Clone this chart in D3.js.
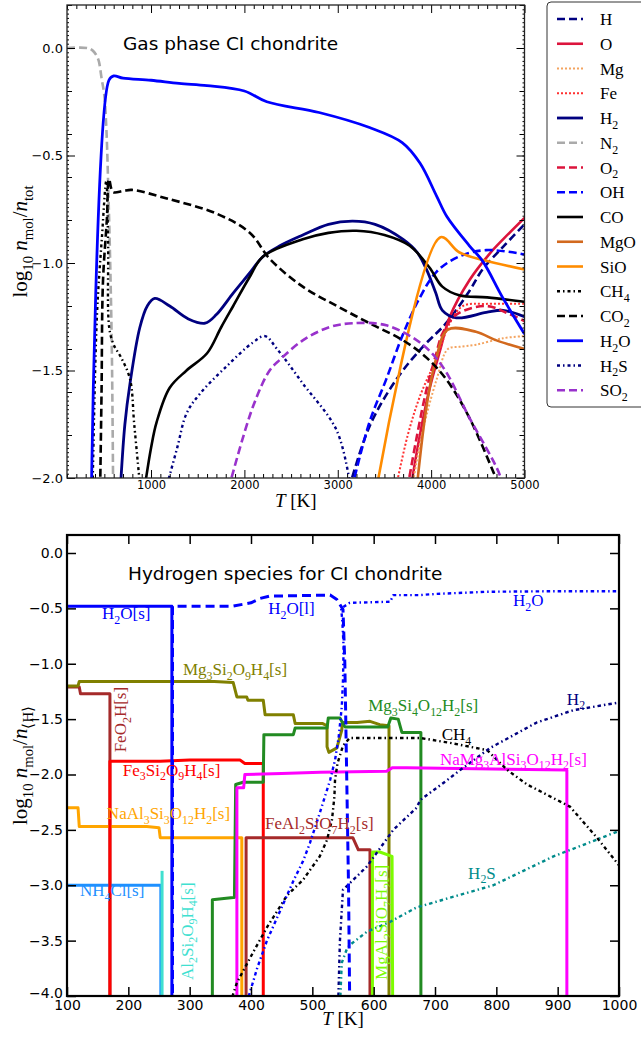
<!DOCTYPE html>
<html>
<head>
<meta charset="utf-8">
<script src="https://cdn.jsdelivr.net/npm/d3@7"></script>
<style>
  body { margin: 0; background: #fff; }
  svg { display: block; }
</style>
</head>
<body>
<svg id="fig" width="641" height="1039"></svg>
<script>
// ---------- Gas phase CI chondrite: [T (K), log10 n_mol/n_tot] ----------
const gasH   = [[3120,-2.05],[3340,-1.76],[3630,-1.54],[3910,-1.39],[4160,-1.28],[4410,-1.13],[4550,-1.03],[4770,-0.925],[5000,-0.82]];
const gasO   = [[3780,-2.05],[3880,-1.8],[3980,-1.59],[4100,-1.4],[4200,-1.25],[4410,-1.08],[4630,-0.955],[4770,-0.89],[5000,-0.79]];
const gasMg  = [[3795,-2.05],[3900,-1.8],[4060,-1.54],[4180,-1.40],[4300,-1.39],[4480,-1.38],[4770,-1.35],[5000,-1.34]];
const gasFe  = [[3620,-2.05],[3750,-1.8],[3880,-1.62],[4060,-1.44],[4200,-1.28],[4340,-1.2],[4600,-1.19],[5000,-1.19]];
const gasH2  = [[672,-2.05],[720,-1.75],[775,-1.56],[880,-1.3],[960,-1.2],[1040,-1.165],[1200,-1.2],[1400,-1.26],[1580,-1.28],[1700,-1.24],[1880,-1.14],[2050,-1.05],[2200,-0.97],[2380,-0.92],[2625,-0.87],[2900,-0.82],[3160,-0.805],[3400,-0.82],[3700,-0.89],[3850,-0.95],[3950,-1.03],[4050,-1.14],[4120,-1.22],[4270,-1.255],[4590,-1.23],[4770,-1.22],[5000,-1.25]];
const gasN2  = [[100,0],[320,0],[370,-0.01],[410,-0.03],[440,-0.06],[470,-0.14],[500,-0.22],[520,-0.36],[530,-0.47],[540,-0.62],[560,-0.95],[580,-1.4],[594,-2.05]];
const gasO2  = [[3745,-2.05],[3850,-1.8],[3950,-1.59],[4050,-1.43],[4120,-1.33],[4270,-1.24],[4590,-1.2],[4800,-1.23],[5000,-1.27]];
const gasOH  = [[3150,-2.05],[3340,-1.74],[3520,-1.54],[3700,-1.33],[3880,-1.16],[4060,-1.04],[4300,-0.97],[4590,-0.94],[5000,-0.96]];
const gasCO  = [[930,-2.05],[1000,-1.86],[1060,-1.74],[1200,-1.58],[1380,-1.5],[1600,-1.42],[1750,-1.3],[1880,-1.2],[2050,-1.07],[2200,-0.97],[2625,-0.89],[2900,-0.86],[3200,-0.85],[3500,-0.87],[3770,-0.92],[3980,-1.02],[4120,-1.11],[4300,-1.15],[4600,-1.16],[5000,-1.18]];
const gasMgO = [[3845,-2.05],[3950,-1.67],[4050,-1.45],[4180,-1.31],[4480,-1.32],[4700,-1.36],[5000,-1.40]];
const gasSiO = [[3415,-2.05],[4100,-0.88],[4300,-0.95],[4590,-0.99],[5000,-1.03]];
const gasCH4 = [[374,-2.05],[420,-1.25],[474,-0.88],[520,-0.62],[540,-0.9],[552,-1.3],[600,-1.38],[680,-1.44],[775,-1.54],[820,-1.75],[885,-2.05]];
const gasCO2 = [[455,-2.05],[470,-1.6],[485,-1.09],[528,-0.79],[550,-0.61],[593,-0.67],[700,-0.665],[795,-0.66],[1170,-0.7],[1700,-0.77],[2060,-0.86],[2270,-0.98],[2625,-1.11],[2990,-1.2],[3340,-1.28],[3700,-1.36],[3950,-1.44],[4160,-1.54],[4410,-1.72],[4740,-2.05]];
const gasH2O = [[362,-2.05],[549,-0.15],[600,-0.13],[700,-0.14],[1000,-0.15],[1300,-0.165],[1600,-0.175],[2000,-0.2],[2240,-0.25],[2800,-0.3],[3340,-0.37],[3690,-0.44],[3880,-0.535],[4060,-0.69],[4170,-0.785],[4410,-0.92],[4550,-0.99],[4765,-1.16],[5000,-1.33]];
const gasH2S = [[1160,-2.05],[1280,-1.86],[1380,-1.70],[1520,-1.61],[1810,-1.48],[2090,-1.37],[2220,-1.34],[2350,-1.40],[2625,-1.56],[2990,-1.78],[3140,-2.05]];
const gasSO2 = [[1830,-2.05],[2090,-1.67],[2270,-1.5],[2380,-1.45],[2625,-1.36],[2900,-1.3],[3160,-1.28],[3520,-1.29],[3880,-1.37],[4120,-1.48],[4410,-1.72],[4730,-1.98],[4770,-2.05]];

const gasXTicks = [1000, 2000, 3000, 4000, 5000];
const gasYTicks = [0, -0.5, -1, -1.5, -2];

// ---------- Hydrogen species for CI chondrite: [T (K), log10 n_mol/n_<H>] ----------
const h2oSolid   = [[100,-0.48],[271,-0.48],[271,-4.1]];
const h2oLiquid  = [[272,-4.1],[272,-0.48],[370,-0.48],[400,-0.45],[415,-0.41],[430,-0.39],[529,-0.38],[540,-0.42],[550,-0.51],[553,-1],[556,-2],[559,-3],[561,-4.1]];
const h2oGas     = [[391,-4.1],[410,-3.75],[426,-3.5],[450,-3.2],[470,-2.95],[485,-2.78],[496,-2.62],[512,-2.35],[529,-2.05],[537,-1.87],[543,-1.66],[548,-1.39],[550,-1.15],[551,-0.85],[549,-0.62],[547,-0.5],[561,-0.45],[627,-0.44],[632,-0.38],[676,-0.38],[700,-0.37],[785,-0.35],[900,-0.345],[1000,-0.345]];
const mg3si2o9h4 = [[100,-1.2],[118,-1.2],[120,-1.16],[340,-1.16],[371,-1.17],[377,-1.3],[393,-1.3],[395,-1.33],[420,-1.33],[423,-1.46],[469,-1.46],[472,-1.54],[517,-1.54],[524,-1.56],[524,-1.75],[527,-1.8],[540,-1.76],[548,-1.6],[549,-1.53],[573,-1.53],[594,-1.52],[610,-1.55],[625,-1.56],[625,-4.1]];
const feo2h      = [[100,-1.21],[120,-1.21],[122,-1.27],[170,-1.27],[170,-4.1]];
const fe3si2o9h4 = [[170,-4.1],[170,-1.88],[252,-1.88],[300,-1.87],[382,-1.87],[390,-1.9],[420,-1.9],[420,-4.1]];
const mg3si4o12h2= [[337,-4.1],[337,-3.13],[371,-3.11],[373,-3.11],[375,-2.09],[387,-2.07],[420,-2.07],[421,-1.64],[469,-1.64],[472,-1.58],[524,-1.58],[526,-1.49],[545,-1.49],[553,-1.57],[623,-1.57],[628,-1.49],[640,-1.5],[646,-1.62],[677,-1.62],[677,-4.1]];
const namg3alsi3 = [[377,-4.1],[377,-2.12],[388,-2.12],[390,-2.0],[450,-1.99],[513,-1.98],[621,-1.97],[630,-1.94],[654,-1.94],[915,-1.96],[915,-4.1]];
const naal3si3   = [[100,-2.3],[118,-2.3],[120,-2.47],[230,-2.47],[250,-2.48],[252,-2.57],[385,-2.57],[385,-4.1]];
const feal2sio7  = [[392,-4.1],[392,-2.57],[566,-2.57],[575,-2.68],[594,-2.68],[594,-4.1]];
const mgal2sio7  = [[598,-4.1],[598,-2.7],[610,-2.7],[630,-2.74],[631,-4.1]];
const nh4cl      = [[100,-3.0],[253,-3.0],[253,-4.1]];
const al2si2o9h4 = [[255,-4.1],[255,-2.87]];
const hydH2      = [[542,-4.1],[545,-3.5],[550,-3.04],[567,-2.95],[589,-2.83],[632,-2.5],[670,-2.3],[676,-2.23],[720,-2.05],[741,-1.96],[790,-1.76],[866,-1.53],[925,-1.42],[1000,-1.35]];
const hydCH4     = [[364,-4.1],[377,-3.88],[404,-3.6],[426,-3.38],[459,-3.09],[485,-2.95],[512,-2.74],[524,-2.59],[532,-2.41],[536,-2.2],[537,-2.05],[541,-1.9],[550,-1.74],[561,-1.67],[676,-1.67],[730,-1.72],[785,-1.78],[818,-1.96],[850,-2.09],[920,-2.29],[964,-2.57],[1000,-2.82]];
const hydH2S     = [[545,-4.1],[548,-3.7],[556,-3.58],[561,-3.54],[589,-3.42],[627,-3.33],[670,-3.2],[795,-3.0],[893,-2.74],[1000,-2.51]];

const hydXTicks = [100, 200, 300, 400, 500, 600, 700, 800, 900, 1000];
const hydYTicks = [0, -0.5, -1, -1.5, -2, -2.5, -3, -3.5, -4];

// ---------- styling of the series ----------
const gasSeries = [
  { label: "H",     data: gasH,   color: "#000080", dash: "8,4",          w: 2.6 },
  { label: "O",     data: gasO,   color: "#dc143c", dash: null,           w: 2.6 },
  { label: "Mg",    data: gasMg,  color: "#f4a460", dash: "2,2",          w: 2 },
  { label: "Fe",    data: gasFe,  color: "#ff3030", dash: "2,2",          w: 2 },
  { label: "H_2",   data: gasH2,  color: "#000080", dash: null,           w: 2.8 },
  { label: "N_2",   data: gasN2,  color: "#aaaaaa", dash: "8,4",          w: 2.6 },
  { label: "O_2",   data: gasO2,  color: "#dc143c", dash: "8,4",          w: 2.6 },
  { label: "OH",    data: gasOH,  color: "#0000ff", dash: "8,4",          w: 2.6 },
  { label: "CO",    data: gasCO,  color: "#000000", dash: null,           w: 2.6 },
  { label: "MgO",   data: gasMgO, color: "#d2691e", dash: null,           w: 2.6 },
  { label: "SiO",   data: gasSiO, color: "#ff8c00", dash: null,           w: 2.6 },
  { label: "CH_4",  data: gasCH4, color: "#000000", dash: "3,3,1.5,3",    w: 2.4 },
  { label: "CO_2",  data: gasCO2, color: "#000000", dash: "8,4",          w: 2.6 },
  { label: "H_2O",  data: gasH2O, color: "#0000ff", dash: null,           w: 2.8 },
  { label: "H_2S",  data: gasH2S, color: "#000080", dash: "3,3,1.5,3",    w: 2.4 },
  { label: "SO_2",  data: gasSO2, color: "#9932cc", dash: "8,4",          w: 2.6 }
];

const hydSeries = [
  { data: feo2h,       color: "#a52a2a", dash: null,          w: 3 },
  { data: mg3si2o9h4,  color: "#808000", dash: null,          w: 3 },
  { data: nh4cl,       color: "#1e90ff", dash: null,          w: 3 },
  { data: al2si2o9h4,  color: "#40e0d0", dash: null,          w: 3 },
  { data: naal3si3,    color: "#ffa500", dash: null,          w: 3 },
  { data: fe3si2o9h4,  color: "#ff0000", dash: null,          w: 3 },
  { data: h2oSolid,    color: "#0000ff", dash: null,          w: 3 },
  { data: mg3si4o12h2, color: "#228b22", dash: null,          w: 3 },
  { data: namg3alsi3,  color: "#ff00ff", dash: null,          w: 3 },
  { data: feal2sio7,   color: "#a52a2a", dash: null,          w: 3 },
  { data: mgal2sio7,   color: "#7cfc00", dash: null,          w: 3 },
  { data: hydCH4,      color: "#000000", dash: "3.5,3,1.5,3", w: 2.4 },
  { data: hydH2,       color: "#000080", dash: "3.5,3,1.5,3", w: 2.4 },
  { data: hydH2S,      color: "#008b8b", dash: "3.5,3,1.5,3", w: 2.4 },
  { data: h2oGas,      color: "#0000ff", dash: "3.5,3,1.5,3", w: 2.4 },
  { data: h2oLiquid,   color: "#0000ff", dash: "9,5",         w: 3 }
];

// in-plot labels: text, anchor point in data coordinates, rotation
const hydLabels = [
  { text: "H_2O[s]",              T: 157, v: -0.596, color: "#0000ff", rot: 0 },
  { text: "H_2O[l]",              T: 428, v: -0.55,  color: "#0000ff", rot: 0 },
  { text: "H_2O",                 T: 827, v: -0.48,  color: "#0000ff", rot: 0 },
  { text: "Mg_3Si_2O_9H_4[s]",    T: 289, v: -1.10,  color: "#808000", rot: 0 },
  { text: "FeO_2H[s]",            T: 196, v: -1.80,  color: "#a52a2a", rot: -90 },
  { text: "Fe_3Si_2O_9H_4[s]",    T: 191, v: -2.01,  color: "#ff0000", rot: 0 },
  { text: "NaAl_3Si_3O_{12}H_2[s]", T: 165, v: -2.40, color: "#ffa500", rot: 0 },
  { text: "NH_4Cl[s]",            T: 121, v: -3.10,  color: "#1e90ff", rot: 0 },
  { text: "Al_2Si_2O_9H_4[s]",    T: 305, v: -3.855, color: "#40e0d0", rot: -90 },
  { text: "FeAl_2SiO_7H_2[s]",    T: 423, v: -2.49,  color: "#a52a2a", rot: 0 },
  { text: "Mg_3Si_4O_{12}H_2[s]", T: 591, v: -1.43,  color: "#228b22", rot: 0 },
  { text: "CH_4",                 T: 711, v: -1.69,  color: "#000000", rot: 0 },
  { text: "NaMg_3AlSi_3O_{12}H_2[s]", T: 708, v: -1.91, color: "#ff00ff", rot: 0 },
  { text: "H_2",                  T: 915, v: -1.37,  color: "#000080", rot: 0 },
  { text: "H_2S",                 T: 754, v: -2.94,  color: "#008b8b", rot: 0 },
  { text: "MgAl_2SiO_7H_2[s]",    T: 622, v: -3.855, color: "#7cfc00", rot: -90 }
];

// ---------- helpers ----------
const SERIF = "'Liberation Serif', 'Times New Roman', serif";
const SANS = "'DejaVu Sans', 'Bitstream Vera Sans', sans-serif";

// Writes a formula such as "Mg_3Si_2O_9H_4[s]" or "*n*_{mol}" into a <text>
// element, subscripts as smaller lowered tspans, *x* as italic.
function rich(t, str, fs) {
  const re = /_\{([^}]*)\}|_(\d+)|\*([^*]+)\*|([^_*]+)/g;
  let m, down = 0;
  while ((m = re.exec(str))) {
    let txt, sub = false, it = false;
    if (m[1] !== undefined) { txt = m[1]; sub = true; }
    else if (m[2] !== undefined) { txt = m[2]; sub = true; }
    else if (m[3] !== undefined) { txt = m[3]; it = true; }
    else { txt = m[4]; }
    const target = sub ? fs * 0.28 : 0;
    const ts = t.append("tspan").text(txt).attr("dy", target - down);
    if (sub) ts.attr("font-size", fs * 0.7);
    if (it) ts.attr("font-style", "italic");
    down = target;
  }
}

function styleAxis(g, fs) {
  g.select(".domain").remove();
  g.selectAll(".tick line").attr("stroke", "#000").attr("stroke-width", 1);
  g.selectAll("text").attr("font-family", SANS).attr("font-size", fs).attr("fill", "#000");
}

const svg = d3.select("#fig");
const defs = svg.append("defs");

// ================= Top panel: gas phase =================
const gx = d3.scaleLinear().domain([100, 5000]).range([67, 524.5]);
const gy = d3.scaleLinear().domain([-2, 0.2]).range([478, 5]);

defs.append("clipPath").attr("id", "clipGas").append("rect")
  .attr("x", gx.range()[0]).attr("y", gy.range()[1])
  .attr("width", gx.range()[1] - gx.range()[0]).attr("height", gy.range()[0] - gy.range()[1]);

const gasPanel = svg.append("g");
const gasLine = d3.line().x(d => gx(d[0])).y(d => gy(d[1])).curve(d3.curveCatmullRom.alpha(0.5));

const gasPlot = gasPanel.append("g").attr("clip-path", "url(#clipGas)");
gasSeries.forEach(s => {
  gasPlot.append("path").datum(s.data)
    .attr("d", gasLine)
    .attr("fill", "none")
    .attr("stroke", s.color)
    .attr("stroke-width", s.w)
    .attr("stroke-dasharray", s.dash)
    .attr("stroke-linejoin", "round");
});

// ticks (all pointing inward)
const gasXMinor = d3.range(1, 51).map(i => i * 100).filter(v => v % 1000 !== 0);
const gasYMinor = d3.range(-10, 2).map(i => i / 5).filter(v => Math.abs(v * 2 - Math.round(v * 2)) > 1e-6);
const gasYTiny = d3.range(-100, 11).map(i => i / 50);

gasPanel.append("g").attr("transform", `translate(0,${gy(-2)})`)
  .call(d3.axisBottom(gx).tickValues(gasXTicks).tickSize(-8).tickPadding(3).tickFormat(d3.format("d")))
  .call(g => styleAxis(g, 11.5));
gasPanel.append("g").attr("transform", `translate(0,${gy(-2)})`)
  .call(d3.axisBottom(gx).tickValues(gasXMinor).tickSize(-4).tickFormat(""))
  .call(g => styleAxis(g, 11.5));
gasPanel.append("g").attr("transform", `translate(0,${gy(0.2)})`)
  .call(d3.axisTop(gx).tickValues(gasXTicks).tickSize(-8).tickFormat(""))
  .call(g => styleAxis(g, 11.5));
gasPanel.append("g").attr("transform", `translate(0,${gy(0.2)})`)
  .call(d3.axisTop(gx).tickValues(gasXMinor).tickSize(-4).tickFormat(""))
  .call(g => styleAxis(g, 11.5));

gasPanel.append("g").attr("transform", `translate(${gx(100)},0)`)
  .call(d3.axisLeft(gy).tickValues(gasYTicks).tickSize(-8).tickPadding(4).tickFormat(d3.format(".1f")))
  .call(g => styleAxis(g, 13));
gasPanel.append("g").attr("transform", `translate(${gx(100)},0)`)
  .call(d3.axisLeft(gy).tickValues(gasYMinor).tickSize(-5).tickFormat(""))
  .call(g => styleAxis(g, 13));
gasPanel.append("g").attr("transform", `translate(${gx(100)},0)`)
  .call(d3.axisLeft(gy).tickValues(gasYTiny).tickSize(-2).tickFormat(""))
  .call(g => styleAxis(g, 13));
gasPanel.append("g").attr("transform", `translate(${gx(5000)},0)`)
  .call(d3.axisRight(gy).tickValues(gasYTicks).tickSize(-8).tickFormat(""))
  .call(g => styleAxis(g, 13));
gasPanel.append("g").attr("transform", `translate(${gx(5000)},0)`)
  .call(d3.axisRight(gy).tickValues(gasYMinor).tickSize(-5).tickFormat(""))
  .call(g => styleAxis(g, 13));
gasPanel.append("g").attr("transform", `translate(${gx(5000)},0)`)
  .call(d3.axisRight(gy).tickValues(gasYTiny).tickSize(-2).tickFormat(""))
  .call(g => styleAxis(g, 13));

gasPanel.append("rect")
  .attr("x", gx(100)).attr("y", gy(0.2))
  .attr("width", gx(5000) - gx(100)).attr("height", gy(-2) - gy(0.2))
  .attr("fill", "none").attr("stroke", "#222").attr("stroke-width", 1.3);

gasPanel.append("text").attr("x", 123).attr("y", 50)
  .attr("font-family", SANS).attr("font-size", 18.5).attr("fill", "#000")
  .text("Gas phase CI chondrite");

gasPanel.append("text").attr("x", (gx(100) + gx(5000)) / 2).attr("y", 507)
  .attr("text-anchor", "middle").attr("font-family", SERIF).attr("font-size", 19)
  .call(t => rich(t, "*T* [K]", 19));

gasPanel.append("text").attr("transform", `translate(27,${(gy(0.2) + gy(-2)) / 2}) rotate(-90)`)
  .attr("text-anchor", "middle").attr("font-family", SERIF).attr("font-size", 21)
  .call(t => rich(t, "log_{10} *n*_{mol}/*n*_{tot}", 21));

// legend
const legend = svg.append("g");
legend.append("rect").attr("x", 547).attr("y", 2).attr("width", 110).attr("height", 405)
  .attr("rx", 4).attr("fill", "#fff").attr("stroke", "#333").attr("stroke-width", 1);
gasSeries.forEach((s, i) => {
  const y = 19 + i * 24.75;
  legend.append("line").attr("x1", 557).attr("x2", 583).attr("y1", y).attr("y2", y)
    .attr("stroke", s.color).attr("stroke-width", s.w).attr("stroke-dasharray", s.dash);
  legend.append("text").attr("x", 600).attr("y", y + 6)
    .attr("font-family", SERIF).attr("font-size", 17).attr("fill", "#000")
    .call(t => rich(t, s.label, 17));
});

// ================= Bottom panel: hydrogen species =================
const hx = d3.scaleLinear().domain([100, 1000]).range([67, 619]);
const hy = d3.scaleLinear().domain([-4, 0.1625]).range([996, 535]);

defs.append("clipPath").attr("id", "clipHyd").append("rect")
  .attr("x", hx.range()[0]).attr("y", hy.range()[1])
  .attr("width", hx.range()[1] - hx.range()[0]).attr("height", hy.range()[0] - hy.range()[1]);

const hydPanel = svg.append("g");
const hydLine = d3.line().x(d => hx(d[0])).y(d => hy(d[1]));
const hydPlot = hydPanel.append("g").attr("clip-path", "url(#clipHyd)");
hydSeries.forEach(s => {
  hydPlot.append("path").datum(s.data)
    .attr("d", hydLine)
    .attr("fill", "none")
    .attr("stroke", s.color)
    .attr("stroke-width", s.w)
    .attr("stroke-dasharray", s.dash)
    .attr("stroke-linejoin", "round");
});

hydLabels.forEach(l => {
  const px = hx(l.T), py = hy(l.v);
  hydPanel.append("text")
    .attr("transform", l.rot ? `translate(${px},${py}) rotate(${l.rot})` : `translate(${px},${py})`)
    .attr("font-family", SERIF).attr("font-size", 17).attr("fill", l.color)
    .call(t => rich(t, l.text, 17));
});

hydPanel.append("g").attr("transform", `translate(0,${hy(-4)})`)
  .call(d3.axisBottom(hx).tickValues(hydXTicks).tickSize(-9).tickPadding(4).tickFormat(d3.format("d")))
  .call(g => styleAxis(g, 14));
hydPanel.append("g").attr("transform", `translate(0,${hy(0.1625)})`)
  .call(d3.axisTop(hx).tickValues(hydXTicks).tickSize(-9).tickFormat(""))
  .call(g => styleAxis(g, 14));
hydPanel.append("g").attr("transform", `translate(${hx(100)},0)`)
  .call(d3.axisLeft(hy).tickValues(hydYTicks).tickSize(-9).tickPadding(4).tickFormat(d3.format(".1f")))
  .call(g => styleAxis(g, 14))
  // the lowest label sits a touch higher so it clears the first T label
  .call(g => g.selectAll(".tick").filter(d => d === -4).select("text").attr("dy", "0.1em"));
hydPanel.append("g").attr("transform", `translate(${hx(1000)},0)`)
  .call(d3.axisRight(hy).tickValues(hydYTicks).tickSize(-9).tickFormat(""))
  .call(g => styleAxis(g, 14));
hydPanel.selectAll(".tick line").attr("stroke-width", 1.5);

hydPanel.append("rect")
  .attr("x", hx(100)).attr("y", hy(0.1625))
  .attr("width", hx(1000) - hx(100)).attr("height", hy(-4) - hy(0.1625))
  .attr("fill", "none").attr("stroke", "#000").attr("stroke-width", 2.2);

hydPanel.append("text").attr("x", 128).attr("y", 580)
  .attr("font-family", SANS).attr("font-size", 18.5).attr("fill", "#000")
  .text("Hydrogen species for CI chondrite");

hydPanel.append("text").attr("x", (hx(100) + hx(1000)) / 2).attr("y", 1025)
  .attr("text-anchor", "middle").attr("font-family", SERIF).attr("font-size", 19)
  .call(t => rich(t, "*T* [K]", 19));

hydPanel.append("text").attr("transform", `translate(27,${(hy(0.1625) + hy(-4)) / 2}) rotate(-90)`)
  .attr("text-anchor", "middle").attr("font-family", SERIF).attr("font-size", 21)
  .call(t => rich(t, "log_{10} *n*_{mol}/*n*_{⟨H⟩}", 21));
</script>
</body>
</html>
